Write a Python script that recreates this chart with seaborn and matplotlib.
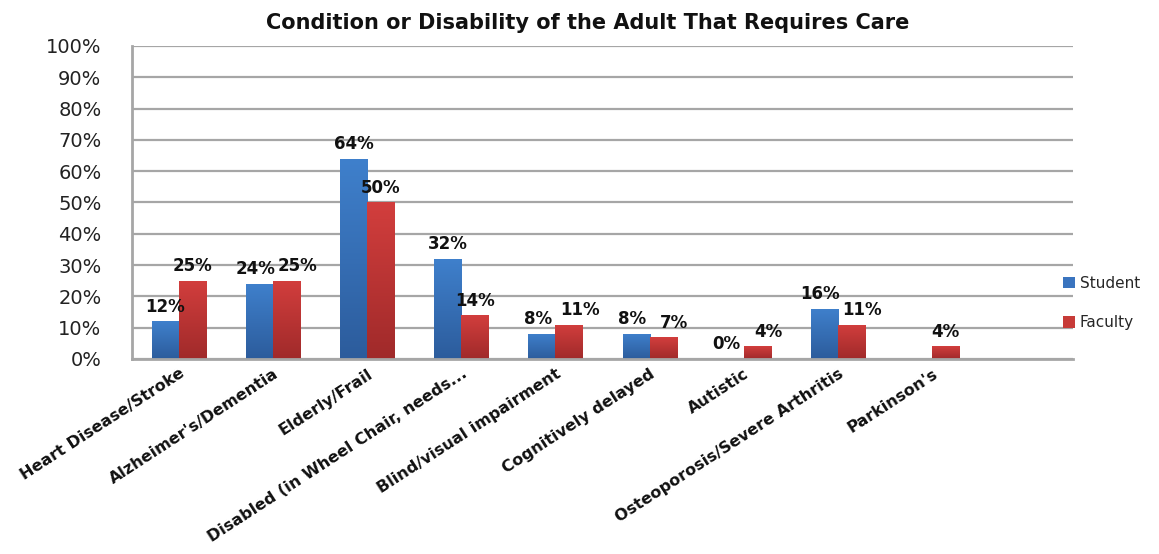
import numpy as np
import pandas as pd
import matplotlib
matplotlib.use("Agg")
import matplotlib.pyplot as plt
import seaborn as sns
from matplotlib.colors import LinearSegmentedColormap

categories = ["Heart Disease/Stroke", "Alzheimer's/Dementia", "Elderly/Frail",
              "Disabled (in Wheel Chair, needs...", "Blind/visual impairment",
              "Cognitively delayed", "Autistic", "Osteoporosis/Severe Arthritis",
              "Parkinson's", " "]
student = [12, 24, 64, 32, 8, 8, 0, 16, np.nan, np.nan]
faculty = [25, 25, 50, 14, 11, 7, 4, 11, 4, np.nan]
series_names = ["Student", "Faculty"]
yticks = [0, 10, 20, 30, 40, 50, 60, 70, 80, 90, 100]
title = "Condition or Disability of the Adult That Requires Care"

df = pd.DataFrame({
    "Category": categories * 2,
    "Group": [series_names[0]] * len(categories) + [series_names[1]] * len(categories),
    "Value": student + faculty,
})

sns.set_style("white")
plt.rcParams["font.family"] = ["DejaVu Sans"]

fig = plt.figure(figsize=(11.59, 5.54), dpi=100)
ax = fig.add_axes([0.1139, 0.352, 0.8119, 0.565])

colors = {"Student": "#3A74BF", "Faculty": "#C73B38"}
sns.barplot(data=df, x="Category", y="Value", hue="Group", palette=colors,
            order=categories, hue_order=series_names,
            width=0.575, gap=0, ax=ax, legend=True, saturation=1,
            edgecolor="none", errorbar=None)

ax.set_xlim(-0.5, len(categories) - 0.5)
ax.set_ylim(0, 100)
ax.set_yticks(yticks)
ax.set_yticklabels([f"{v}%" for v in yticks], fontsize=14, color="#222222")
ax.set_xlabel("")
ax.set_ylabel("")
ax.tick_params(axis="both", length=0)
ax.tick_params(axis="y", pad=22)
ax.set_xticks(range(len(categories)))
ax.set_xticklabels(categories, rotation=33, ha="right", rotation_mode="anchor",
                   fontsize=11.5, fontweight="bold", color="#111111")
ax.tick_params(axis="x", pad=5)

ax.yaxis.grid(True, color="#A6A6A6", linewidth=1.6)
ax.set_axisbelow(True)
for s in ["top", "right"]:
    ax.spines[s].set_visible(False)
for s in ["left", "bottom"]:
    ax.spines[s].set_color("#A6A6A6")
    ax.spines[s].set_linewidth(2)

# gradient fills and labels
grads = {
    "Student": LinearSegmentedColormap.from_list("b", ["#2C5C9C", "#3F80CC"]),
    "Faculty": LinearSegmentedColormap.from_list("r", ["#A02A2A", "#D23E3D"]),
}
grad = np.linspace(0, 1, 100).reshape(-1, 1)
for si, (cont, name, vals) in enumerate(zip(ax.containers, series_names, [student, faculty])):
    other = faculty if si == 0 else student
    for patch in cont.patches:
        x0, w, h = patch.get_x(), patch.get_width(), patch.get_height()
        if np.isnan(h):
            continue
        idx = int(round(x0 + w / 2))
        v = vals[idx]
        if np.isnan(v):
            continue
        if h > 0:
            im = ax.imshow(grad, cmap=grads[name], origin="lower", aspect="auto",
                           extent=[x0, x0 + w, 0, h], zorder=2)
            im.set_clip_path(patch)
            patch.set_facecolor("none")
        dx = 0
        o = other[idx]
        if not np.isnan(o) and abs(o - v) <= 6:
            dx = -3 if si == 0 else 8
        ax.annotate(f"{int(v)}%", (x0 + w / 2, h), xytext=(dx, 4),
                    textcoords="offset points", ha="center", va="bottom",
                    fontsize=12, fontweight="bold", color="#111111", zorder=5)
ax.set_xlim(-0.5, len(categories) - 0.5)
ax.set_ylim(0, 100)

handles, labs = ax.get_legend_handles_labels()
if ax.get_legend() is not None:
    ax.get_legend().remove()
for hdl, n in zip(handles, series_names):
    hdl.set_facecolor(colors[n])
fig.legend(handles, labs, loc="center left", bbox_to_anchor=(0.912, 0.453),
           frameon=False, handlelength=0.8, handleheight=0.8, labelspacing=1.6,
           handletextpad=0.3, fontsize=11, borderaxespad=0)

fig.text(0.507, 0.958, title, ha="center", va="center", fontsize=15,
         fontweight="bold", color="#111111")

fig.savefig("out.png", dpi=100)
